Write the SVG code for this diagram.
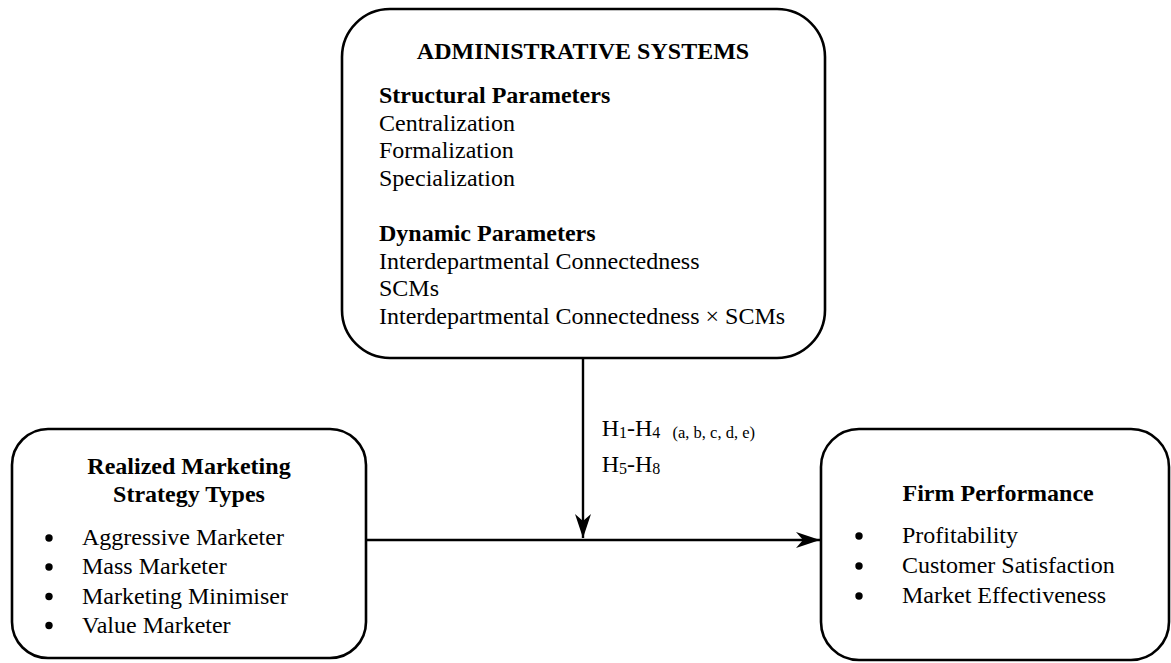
<svg xmlns="http://www.w3.org/2000/svg" width="1171" height="663" viewBox="0 0 1171 663">
<style>
.box{fill:#fff;stroke:#000;stroke-width:2.6}
.t{font-family:"Liberation Serif","Times New Roman",serif;font-size:24px;fill:#000}
.b{font-weight:bold}
.sub{font-size:16px}
.par{font-size:16.5px}
.line{stroke:#000;stroke-width:2.4;fill:none}
.dot{fill:#000}
</style>
<defs>
<marker id="arr" markerUnits="userSpaceOnUse" markerWidth="30" markerHeight="20" viewBox="-26 -10 30 20" refX="0" refY="0" orient="auto">
<path d="M0,0 L-24,-8 L-17,0 L-24,8 Z" fill="#000"/>
</marker>
</defs>
<rect width="1171" height="663" fill="#fff"/>
<g id="admin">
<rect class="box" x="342" y="9" width="483" height="349" rx="48" ry="48"/>
<text class="t b" x="583" y="59" text-anchor="middle">ADMINISTRATIVE SYSTEMS</text>
<text class="t b" x="379" y="103">Structural Parameters</text>
<text class="t" x="379" y="130.5">Centralization</text>
<text class="t" x="379" y="158">Formalization</text>
<text class="t" x="379" y="185.5">Specialization</text>
<text class="t b" x="379" y="241">Dynamic Parameters</text>
<text class="t" x="379" y="268.5">Interdepartmental Connectedness</text>
<text class="t" x="379" y="296">SCMs</text>
<text class="t" x="379" y="324">Interdepartmental Connectedness × SCMs</text>
</g>
<g id="strategy">
<rect class="box" x="12" y="429" width="354" height="229" rx="36" ry="36"/>
<text class="t b" x="189" y="474" text-anchor="middle">Realized Marketing</text>
<text class="t b" x="189" y="501.5" text-anchor="middle">Strategy Types</text>
<circle class="dot" cx="49" cy="538" r="3.7"/>
<circle class="dot" cx="49" cy="567" r="3.7"/>
<circle class="dot" cx="49" cy="596.5" r="3.7"/>
<circle class="dot" cx="49" cy="625.5" r="3.7"/>
<text class="t" x="82" y="545">Aggressive Marketer</text>
<text class="t" x="82" y="574">Mass Marketer</text>
<text class="t" x="82" y="603.5">Marketing Minimiser</text>
<text class="t" x="82" y="632.5">Value Marketer</text>
</g>
<g id="performance">
<rect class="box" x="821" y="429" width="348" height="231" rx="38" ry="38"/>
<text class="t b" x="902.5" y="500.5">Firm Performance</text>
<circle class="dot" cx="859" cy="536" r="3.7"/>
<circle class="dot" cx="859" cy="566" r="3.7"/>
<circle class="dot" cx="859" cy="596" r="3.7"/>
<text class="t" x="902" y="543">Profitability</text>
<text class="t" x="902" y="573">Customer Satisfaction</text>
<text class="t" x="902" y="603">Market Effectiveness</text>
</g>
<g id="connectors">
<line class="line" x1="583" y1="358" x2="583" y2="538" marker-end="url(#arr)"/>
<line class="line" x1="366" y1="540" x2="820" y2="540" marker-end="url(#arr)"/>
</g>
<g id="labels">
<text class="t" x="601.7" y="436">H<tspan class="sub" dy="1.5">1</tspan><tspan dy="-1.5">-H</tspan><tspan class="sub" dy="1.5">4</tspan></text>
<text class="t par" x="672.5" y="437.5">(a, b, c, d, e)</text>
<text class="t" x="601.7" y="472">H<tspan class="sub" dy="1.5">5</tspan><tspan dy="-1.5">-H</tspan><tspan class="sub" dy="1.5">8</tspan></text>
</g>
</svg>
